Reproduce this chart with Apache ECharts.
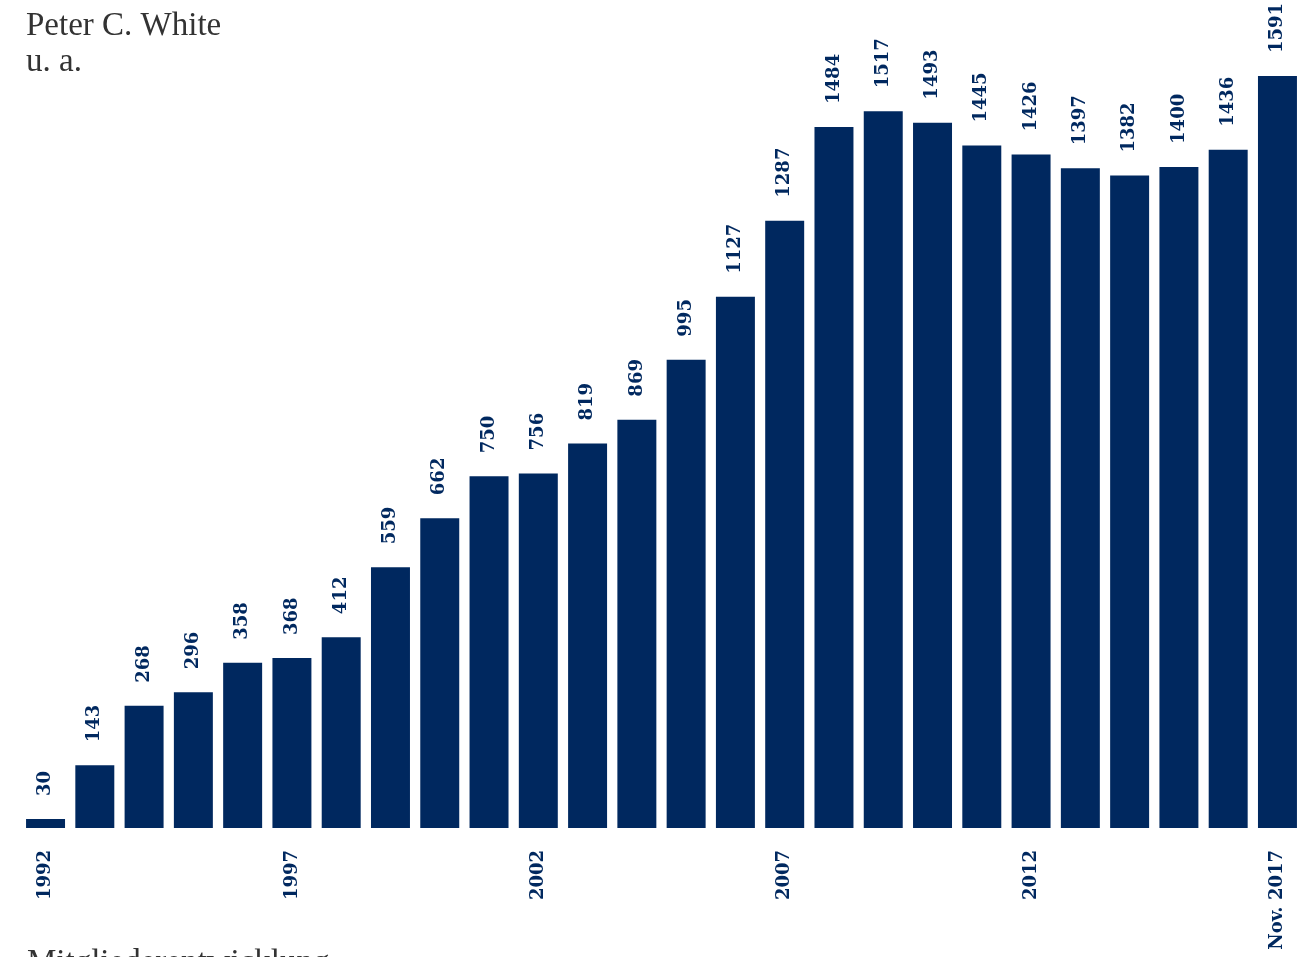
<!DOCTYPE html>
<html>
<head>
<meta charset="utf-8">
<script src="https://cdn.jsdelivr.net/npm/echarts@6/dist/echarts.min.js"></script>
<style>
html,body{margin:0;padding:0;background:#fff;}
#chart{width:1313px;height:957px;}
</style>
</head>
<body>
<div id="chart"></div>
<script>
const categories = ['1992','1993','1994','1995','1996','1997','1998','1999','2000','2001','2002','2003','2004','2005','2006','2007','2008','2009','2010','2011','2012','2013','2014','2015','2016','Nov. 2017'];
const members = [30,143,268,296,358,368,412,559,662,750,756,819,869,995,1127,1287,1484,1517,1493,1445,1426,1397,1382,1400,1436,1591];
const headerLines = ['Peter C. White', 'u. a.'];
const footerText = 'Mitgliederentwicklung';

const navy = '#00285f';
const chart = echarts.init(document.getElementById('chart'), null, {renderer: 'canvas'});
chart.setOption({
  animation: false,
  backgroundColor: '#ffffff',
  grid: {left: 20.9, right: 10.9, top: 76, bottom: 129, containLabel: false},
  xAxis: {
    type: 'category',
    data: categories,
    axisLine: {show: false},
    axisTick: {show: false},
    axisLabel: {
      interval: 4,
      rotate: 90,
      margin: 22,
      color: navy,
      fontFamily: 'DejaVu Serif',
      fontWeight: 'bold',
      fontSize: 18
    }
  },
  yAxis: {
    type: 'value',
    min: 11,
    max: 1591,
    show: false,
    splitLine: {show: false}
  },
  series: [{
    type: 'bar',
    data: members,
    barCategoryGap: '20.9%',
    itemStyle: {color: navy},
    label: {
      show: true,
      position: 'top',
      rotate: 90,
      align: 'left',
      verticalAlign: 'middle',
      distance: 22,
      offset: [1, 0],
      color: navy,
      fontFamily: 'DejaVu Serif',
      fontWeight: 'bold',
      fontSize: 18
    }
  }],
  graphic: [
    {type: 'text', left: 26, top: 10, style: {text: headerLines[0], font: '33px "Liberation Serif"', fill: '#333333'}},
    {type: 'text', left: 26, top: 46, style: {text: headerLines[1], font: '33px "Liberation Serif"', fill: '#333333'}},
    {type: 'text', left: 27, top: 947, style: {text: footerText, font: '33px "Liberation Serif"', fill: '#333333'}}
  ]
});
</script>
</body>
</html>
